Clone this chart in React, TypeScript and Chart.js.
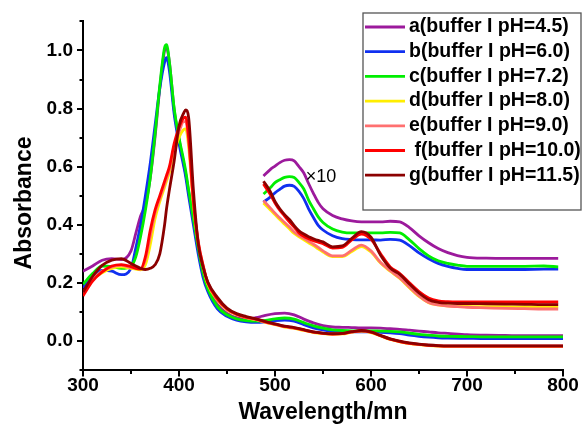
import { useEffect, useRef } from 'react';
import { Chart, registerables } from 'chart.js';

Chart.register(...registerables);

const FONT = '"Liberation Sans", Arial, Helvetica, sans-serif';

// Wavelength grid (nm) for the full spectra
const WAVELENGTH = [300, 310, 320, 330, 340, 350, 355, 360, 365, 370, 375, 380, 385, 387, 390, 395,
  400, 405, 407, 410, 415, 420, 425, 430, 440, 450, 460, 470, 480, 490, 500,
  510, 520, 530, 540, 550, 560, 570, 580, 590, 600, 610, 620, 630, 640, 650, 660, 670, 680,
  700, 720, 740, 760, 780, 800];

const A_MAIN = [0.240, 0.258, 0.278, 0.283, 0.280, 0.310, 0.370, 0.430, 0.470, 0.560, 0.700, 0.870, 1.000, 1.010, 0.960, 0.795,
  0.695, 0.610, 0.575, 0.515, 0.415, 0.315, 0.235, 0.185, 0.125, 0.095, 0.080, 0.075, 0.080, 0.088, 0.094,
  0.096, 0.090, 0.075, 0.062, 0.053, 0.048, 0.047, 0.046, 0.045, 0.045, 0.044, 0.042, 0.040, 0.037, 0.034, 0.031, 0.028, 0.026,
  0.022, 0.020, 0.019, 0.018, 0.018, 0.018];
const B_MAIN = [0.183, 0.222, 0.243, 0.240, 0.228, 0.250, 0.320, 0.400, 0.500, 0.610, 0.740, 0.870, 0.960, 0.975, 0.930, 0.780,
  0.680, 0.600, 0.565, 0.500, 0.400, 0.300, 0.220, 0.170, 0.110, 0.085, 0.072, 0.066, 0.064, 0.066, 0.070,
  0.072, 0.068, 0.056, 0.045, 0.038, 0.033, 0.031, 0.031, 0.031, 0.031, 0.030, 0.028, 0.025, 0.020, 0.016, 0.013, 0.011, 0.010,
  0.009, 0.008, 0.008, 0.008, 0.008, 0.008];
const C_MAIN = [0.195, 0.232, 0.258, 0.256, 0.250, 0.258, 0.290, 0.360, 0.450, 0.560, 0.710, 0.880, 1.010, 1.020, 0.960, 0.800,
  0.700, 0.620, 0.585, 0.520, 0.420, 0.320, 0.235, 0.180, 0.118, 0.090, 0.076, 0.070, 0.068, 0.071, 0.076,
  0.079, 0.075, 0.063, 0.052, 0.044, 0.038, 0.036, 0.035, 0.035, 0.035, 0.034, 0.033, 0.031, 0.027, 0.023, 0.020, 0.017, 0.016,
  0.015, 0.014, 0.014, 0.014, 0.014, 0.014];
const D_MAIN = [0.160, 0.210, 0.235, 0.250, 0.255, 0.250, 0.247, 0.245, 0.262, 0.330, 0.420, 0.480, 0.530, 0.550, 0.580, 0.650,
  0.700, 0.728, 0.730, 0.670, 0.470, 0.335, 0.255, 0.195, 0.140, 0.107, 0.090, 0.080, 0.073, 0.064, 0.056,
  0.048, 0.043, 0.036, 0.029, 0.025, 0.023, 0.024, 0.030, 0.034, 0.029, 0.017, 0.005, -0.003, -0.009, -0.013, -0.016, -0.018, -0.019,
  -0.019, -0.019, -0.019, -0.019, -0.019, -0.019];
const E_MAIN = [0.165, 0.212, 0.240, 0.255, 0.260, 0.253, 0.250, 0.247, 0.280, 0.360, 0.440, 0.490, 0.540, 0.560, 0.590, 0.670,
  0.720, 0.755, 0.755, 0.690, 0.480, 0.345, 0.260, 0.200, 0.143, 0.109, 0.091, 0.081, 0.074, 0.065, 0.057,
  0.049, 0.044, 0.037, 0.030, 0.026, 0.024, 0.025, 0.031, 0.035, 0.030, 0.018, 0.006, -0.002, -0.008, -0.012, -0.015, -0.017, -0.018,
  -0.018, -0.018, -0.018, -0.018, -0.018, -0.018];
const F_MAIN = [0.155, 0.206, 0.238, 0.258, 0.263, 0.256, 0.250, 0.248, 0.290, 0.380, 0.450, 0.500, 0.550, 0.570, 0.600, 0.680,
  0.735, 0.768, 0.770, 0.700, 0.480, 0.340, 0.262, 0.200, 0.145, 0.110, 0.092, 0.082, 0.075, 0.066, 0.058,
  0.050, 0.045, 0.038, 0.030, 0.026, 0.024, 0.025, 0.031, 0.035, 0.030, 0.018, 0.006, -0.002, -0.008, -0.012, -0.015, -0.017, -0.018,
  -0.018, -0.018, -0.018, -0.018, -0.018, -0.018];
const G_MAIN = [0.168, 0.222, 0.260, 0.278, 0.283, 0.267, 0.258, 0.250, 0.246, 0.250, 0.262, 0.300, 0.400, 0.455, 0.520, 0.620,
  0.740, 0.785, 0.795, 0.770, 0.520, 0.335, 0.255, 0.203, 0.150, 0.113, 0.094, 0.084, 0.076, 0.067, 0.059,
  0.051, 0.046, 0.039, 0.031, 0.027, 0.025, 0.026, 0.032, 0.036, 0.031, 0.019, 0.007, -0.001, -0.007, -0.011, -0.014, -0.016, -0.017,
  -0.017, -0.017, -0.017, -0.017, -0.017, -0.017];

// Wavelength grid (nm) for the x10 magnified visible region
const WL_INSET = [488, 495, 500, 505, 510, 515, 520, 525, 530, 535, 540, 545, 550, 560, 570, 580, 590, 600,
  610, 620, 630, 640, 650, 660, 670, 680, 690, 700, 720, 740, 760, 780, 795];

const A_INSET = [0.568, 0.590, 0.602, 0.614, 0.622, 0.624, 0.620, 0.600, 0.578, 0.542, 0.508, 0.477, 0.455, 0.432, 0.420, 0.413, 0.410, 0.410,
  0.410, 0.412, 0.410, 0.390, 0.362, 0.338, 0.318, 0.304, 0.294, 0.288, 0.285, 0.284, 0.284, 0.284, 0.284];
const B_INSET = [0.478, 0.495, 0.510, 0.522, 0.533, 0.536, 0.532, 0.515, 0.490, 0.455, 0.425, 0.398, 0.382, 0.362, 0.352, 0.349, 0.348, 0.348,
  0.347, 0.350, 0.347, 0.328, 0.303, 0.283, 0.267, 0.257, 0.250, 0.246, 0.246, 0.246, 0.246, 0.247, 0.247];
const C_INSET = [0.506, 0.527, 0.545, 0.555, 0.563, 0.566, 0.563, 0.545, 0.523, 0.485, 0.455, 0.427, 0.408, 0.385, 0.375, 0.372, 0.372, 0.372,
  0.372, 0.374, 0.372, 0.348, 0.318, 0.293, 0.276, 0.267, 0.261, 0.257, 0.257, 0.257, 0.257, 0.258, 0.255];
const D_INSET = [0.475, 0.452, 0.435, 0.418, 0.402, 0.386, 0.370, 0.358, 0.348, 0.338, 0.328, 0.317, 0.306, 0.290, 0.290, 0.308, 0.325, 0.306,
  0.268, 0.240, 0.215, 0.183, 0.153, 0.132, 0.124, 0.121, 0.120, 0.119, 0.118, 0.118, 0.117, 0.117, 0.117];
const E_INSET = [0.483, 0.458, 0.440, 0.423, 0.408, 0.392, 0.375, 0.363, 0.353, 0.343, 0.333, 0.322, 0.310, 0.293, 0.293, 0.312, 0.330, 0.310,
  0.270, 0.242, 0.217, 0.185, 0.155, 0.132, 0.124, 0.120, 0.118, 0.116, 0.114, 0.112, 0.111, 0.110, 0.110];
const F_INSET = [0.540, 0.505, 0.475, 0.450, 0.430, 0.410, 0.392, 0.372, 0.360, 0.352, 0.345, 0.340, 0.335, 0.320, 0.322, 0.348, 0.368, 0.350,
  0.300, 0.255, 0.232, 0.200, 0.170, 0.148, 0.138, 0.135, 0.134, 0.134, 0.134, 0.134, 0.134, 0.134, 0.134];
const G_INSET = [0.550, 0.515, 0.480, 0.455, 0.435, 0.418, 0.397, 0.379, 0.368, 0.359, 0.352, 0.346, 0.341, 0.324, 0.327, 0.353, 0.376, 0.357,
  0.295, 0.251, 0.229, 0.196, 0.165, 0.142, 0.133, 0.130, 0.129, 0.129, 0.128, 0.127, 0.126, 0.125, 0.125];

const LABELS = ['a(buffer I pH=4.5)', 'b(buffer I pH=6.0)', 'c(buffer I pH=7.2)', 'd(buffer I pH=8.0)',
  'e(buffer I pH=9.0)', ' f(buffer I pH=10.0)', 'g(buffer I pH=11.5)'];
const COLORS = ['#9C1A9C', '#1030F0', '#00EE00', '#FFEE00', '#FF7070', '#FF0000', '#8B0000'];
const MAIN = [A_MAIN, B_MAIN, C_MAIN, D_MAIN, E_MAIN, F_MAIN, G_MAIN];
const INSET = [A_INSET, B_INSET, C_INSET, D_INSET, E_INSET, F_INSET, G_INSET];

const X_TITLE = 'Wavelength/mn';
const Y_TITLE = 'Absorbance';
const INSET_NOTE = '×10';

const decorPlugin = {
  id: 'decor',
  afterDraw(chart: any) {
    const { ctx, chartArea } = chart;
    const xs = chart.scales.x;
    const ys = chart.scales.y;
    ctx.save();
    // tick marks
    ctx.strokeStyle = '#000';
    ctx.lineWidth = 2;
    ctx.beginPath();
    for (let k = -1; k <= 11; k++) {
      const py = Math.round(ys.getPixelForValue(k / 10));
      const len = k % 2 === 0 ? 6 : 3.5;
      ctx.moveTo(chartArea.left, py);
      ctx.lineTo(chartArea.left - len, py);
    }
    for (let v = 300; v <= 800; v += 50) {
      const px = Math.round(xs.getPixelForValue(v));
      const len = v % 100 === 0 ? 6.5 : 4;
      ctx.moveTo(px, chartArea.bottom);
      ctx.lineTo(px, chartArea.bottom + len);
    }
    ctx.stroke();

    // axis titles
    ctx.fillStyle = '#000';
    ctx.font = `bold 23px ${FONT}`;
    ctx.textAlign = 'center';
    ctx.textBaseline = 'middle';
    ctx.fillText(X_TITLE, (chartArea.left + chartArea.right) / 2, 413);
    ctx.save();
    ctx.translate(25, 203);
    ctx.rotate(-Math.PI / 2);
    ctx.fillText(Y_TITLE, 0, 0);
    ctx.restore();

    // x10 note
    ctx.font = `18px ${FONT}`;
    ctx.textAlign = 'left';
    ctx.fillText(INSET_NOTE, xs.getPixelForValue(532), ys.getPixelForValue(0.563));

    // legend
    const bx = 363, by = 13, bw = 218, bh = 197;
    ctx.strokeStyle = '#555';
    ctx.lineWidth = 1.3;
    ctx.strokeRect(bx, by, bw, bh);
    ctx.font = `bold 19.5px ${FONT}`;
    ctx.textBaseline = 'middle';
    LABELS.forEach((lab, i) => {
      const cy = 27 + i * 24.7;
      ctx.strokeStyle = COLORS[i];
      ctx.lineWidth = 2.8;
      ctx.beginPath();
      ctx.moveTo(365, cy);
      ctx.lineTo(405, cy);
      ctx.stroke();
      ctx.fillStyle = '#000';
      ctx.fillText(lab, 409, cy);
    });
    ctx.restore();
  },
};

export default function App() {
  const ref = useRef<HTMLCanvasElement>(null);
  useEffect(() => {
    if (!ref.current) return;
    const mk = (xs: number[], ys: number[]) => xs.map((x, i) => ({ x, y: ys[i] }));
    const datasets: any[] = [];
    LABELS.forEach((lab, i) => {
      const common = {
        borderColor: COLORS[i],
        backgroundColor: COLORS[i],
        borderWidth: 2.8,
        pointRadius: 0,
        fill: false,
        cubicInterpolationMode: 'monotone',
        order: 10 - i,
      };
      datasets.push({ label: lab, data: mk(WAVELENGTH, MAIN[i]), ...common });
      datasets.push({ label: lab + ' ' + INSET_NOTE, data: mk(WL_INSET, INSET[i]), ...common });
    });
    const chart = new Chart(ref.current, {
      type: 'line',
      data: { datasets },
      options: {
        animation: false,
        responsive: false,
        devicePixelRatio: 1,
        layout: { padding: { left: 0, right: 20, top: 15, bottom: 0 } },
        plugins: { legend: { display: false }, tooltip: { enabled: false } },
        scales: {
          x: {
            type: 'linear',
            min: 300,
            max: 800,
            afterFit: (s: any) => { s.height = 58; },
            ticks: {
              stepSize: 100,
              color: '#000',
              padding: 4,
              maxRotation: 0,
              font: { family: FONT, size: 19, weight: 'bold' },
            },
            grid: { display: true, drawOnChartArea: false, drawTicks: false },
            border: { display: true, color: '#000', width: 2 },
          },
          y: {
            type: 'linear',
            min: -0.1,
            max: 1.1,
            afterFit: (s: any) => { s.width = 83; },
            ticks: {
              stepSize: 0.1,
              color: '#000',
              padding: 10,
              font: { family: FONT, size: 19, weight: 'bold' },
              callback: (v: any) => {
                const k = Math.round(Number(v) * 10);
                return k % 2 === 0 && k >= 0 && k <= 10 ? (k / 10).toFixed(1) : '';
              },
            },
            grid: { display: true, drawOnChartArea: false, drawTicks: false },
            border: { display: true, color: '#000', width: 2 },
          },
        },
      },
      plugins: [decorPlugin],
    } as any);
    return () => chart.destroy();
  }, []);
  return (
    <div style={{ position: 'absolute', left: 0, top: 0, width: 583, height: 428, background: '#fff' }}>
      <canvas ref={ref} width={583} height={428} style={{ display: 'block' }} />
    </div>
  );
}
